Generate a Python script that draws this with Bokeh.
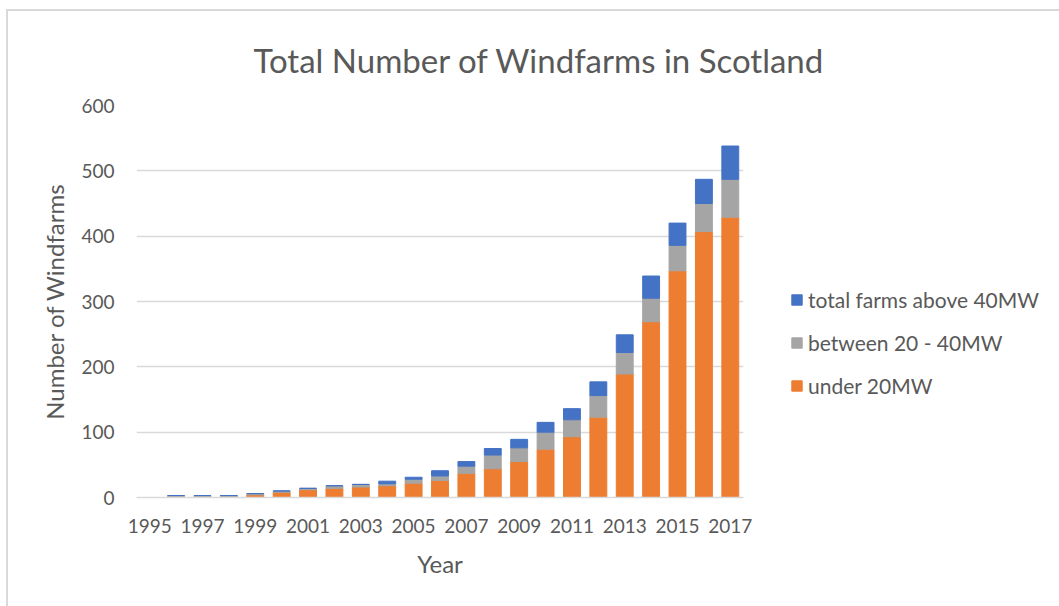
from bokeh.plotting import figure
from bokeh.models import Range1d, FixedTicker, Legend, LegendItem, ColumnDataSource
from bokeh.embed import file_html
from bokeh.resources import INLINE

years = list(range(1995, 2018))
under_20mw = [0, 1, 1, 1, 4, 8, 12, 14, 16, 18, 22, 26, 37, 44, 55, 74, 93, 123, 189, 269, 347, 407, 429]
between_20_40mw = [0, 2, 2, 2, 2, 2, 2, 4, 4, 3, 6, 7, 11, 21, 21, 26, 26, 33, 33, 36, 39, 43, 58]
above_40mw = [0, 0, 0, 0, 0, 0, 0, 0, 0, 4, 3, 8, 7, 10, 13, 15, 17, 21, 27, 34, 34, 37, 51]
tick_years = list(range(1995, 2018, 2))
y_ticks = [0, 100, 200, 300, 400, 500, 600]
series_names = ["under 20MW", "between 20 - 40MW", "total farms above 40MW"]
colors = ["#ED7D31", "#A5A5A5", "#4472C4"]

FONT = "Lato"
TXT = "#595959"

source = ColumnDataSource(dict(year=years, under=under_20mw, between=between_20_40mw, above=above_40mw))

p = figure(frame_width=607, frame_height=392, output_backend="svg", toolbar_location=None,
           x_range=Range1d(1994.5, 2017.5), y_range=Range1d(0, 600),
           min_border_left=128, min_border_right=316, min_border_top=94, min_border_bottom=109,
           title="Total Number of Windfarms in Scotland")
p.margin = (11, 0, 0, 8)
p.styles = {"outline": "2px solid #D9D9D9"}
p.outline_line_color = None

p.title.align = "left"
p.title.offset = 117
p.title.text_font = FONT
p.title.text_font_style = "normal"
p.title.text_font_size = "33px"
p.title.text_color = TXT
p.title.standoff = 52

rs = p.vbar_stack(["under", "between", "above"], x="year", width=0.64, color=colors, source=source)

items = [LegendItem(label=series_names[i], renderers=[rs[i]]) for i in (2, 1, 0)]
legend = Legend(items=items, location="top_left", padding=0, margin=47,
                title=" ", title_text_font_size="10px", title_standoff=124,
                border_line_color=None, background_fill_alpha=0,
                glyph_width=13, glyph_height=13, label_standoff=5, spacing=18,
                label_text_font=FONT, label_text_font_size="21px", label_text_color=TXT)
p.add_layout(legend, "right")

p.xgrid.grid_line_color = None
p.ygrid.grid_line_color = "#D9D9D9"
p.ygrid.grid_line_width = 1.5

p.xaxis.ticker = FixedTicker(ticks=tick_years)
p.yaxis.ticker = FixedTicker(ticks=y_ticks)
for ax in (p.xaxis, p.yaxis):
    ax.major_tick_line_color = None
    ax.minor_tick_line_color = None
    ax.major_tick_out = 0
    ax.major_tick_in = 0
    ax.minor_tick_out = 0
    ax.major_label_text_font = FONT
    ax.major_label_text_font_size = "19px"
    ax.major_label_text_color = TXT
    ax.axis_label_text_font = FONT
    ax.axis_label_text_font_size = "24px"
    ax.axis_label_text_font_style = "normal"
    ax.axis_label_text_color = TXT
p.xaxis.axis_line_color = "#D9D9D9"
p.xaxis.axis_line_width = 1.5
p.yaxis.axis_line_color = None
p.xaxis.major_label_standoff = 21
p.yaxis.major_label_standoff = 22
p.xaxis.axis_label = "Year"
p.yaxis.axis_label = "Number of Windfarms"
p.xaxis.axis_label_standoff = 13
p.yaxis.axis_label_standoff = 9

open("out.html", "w").write(file_html(p, INLINE))
